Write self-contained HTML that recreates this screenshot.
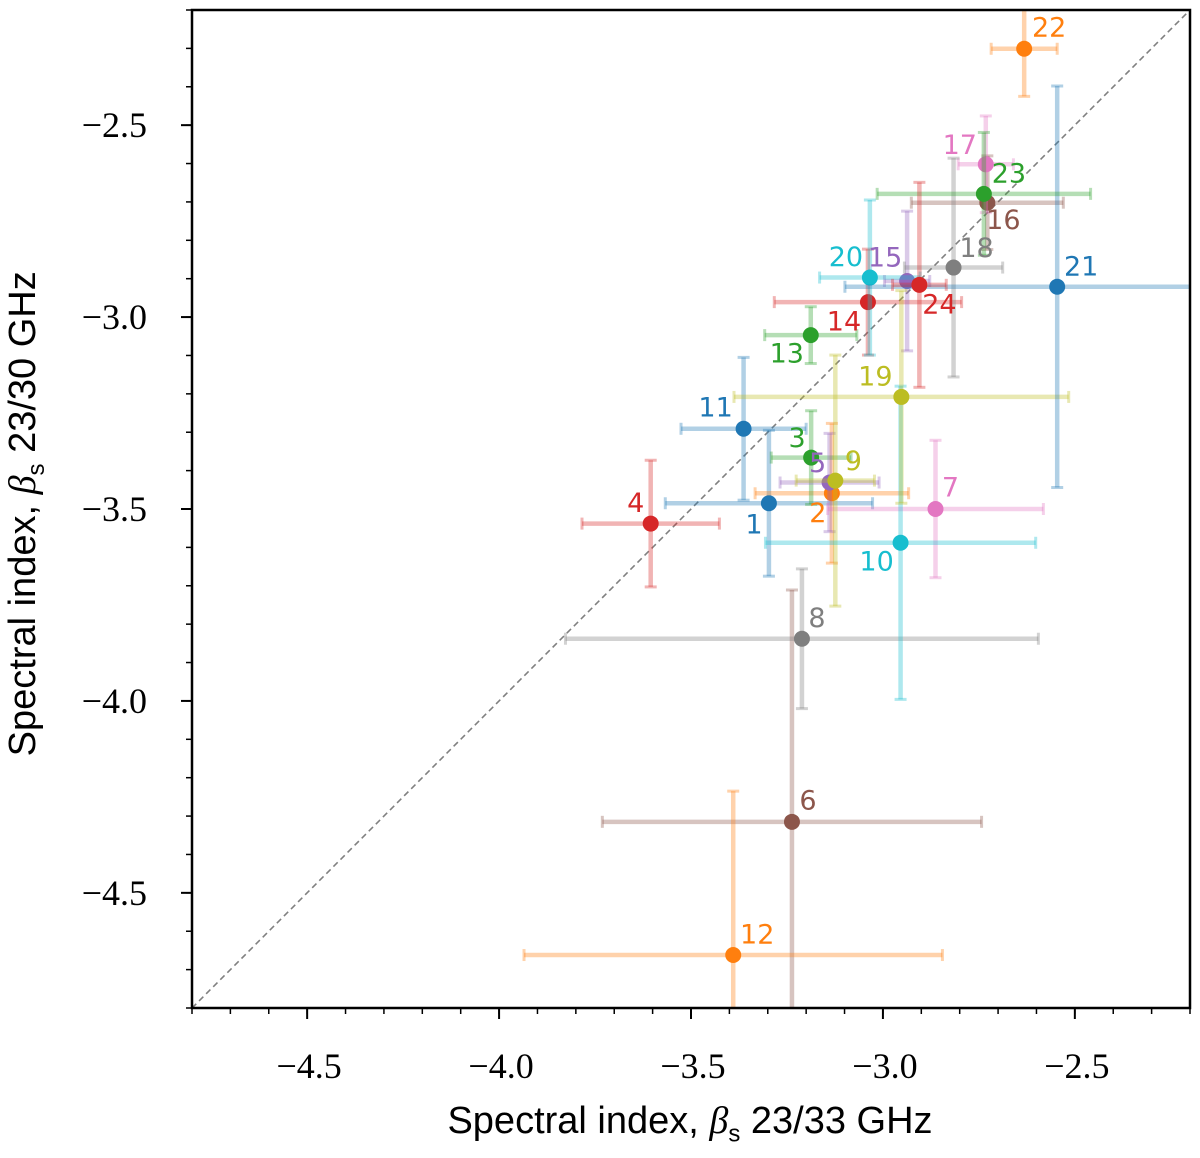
<!DOCTYPE html>
<html><head><meta charset="utf-8">
<style>
html,body{margin:0;padding:0;background:#fff;}
svg{display:block;}
.tick{font-family:"Liberation Serif",serif;font-size:36px;fill:#000;}
.lab{font-family:"DejaVu Sans","Liberation Sans",sans-serif;font-size:27px;}
</style></head>
<body>
<svg id="chart" width="1200" height="1152" viewBox="0 0 1200 1152">
<defs><clipPath id="plotclip"><rect x="192" y="10" width="998" height="998"/></clipPath></defs>
<g id="plot" clip-path="url(#plotclip)"></g>
<g id="axes"></g>
<g id="labels"></g>
</svg>
<script>
const ids = ["1","2","3","4","5","6","7","8","9","10","11","12","13","14","15","16","17","18","19","20","21","22","23","24"];
const xVals = [-3.297,-3.133,-3.187,-3.605,-3.139,-3.237,-2.863,-3.211,-3.124,-2.954,-3.363,-3.390,-3.188,-3.039,-2.937,-2.728,-2.732,-2.816,-2.952,-3.034,-2.546,-2.632,-2.737,-2.905];
const yVals = [-3.485,-3.459,-3.366,-3.538,-3.431,-4.315,-3.500,-3.838,-3.426,-3.588,-3.291,-4.662,-3.047,-2.961,-2.906,-2.702,-2.602,-2.871,-3.208,-2.897,-2.921,-2.301,-2.679,-2.916];
const xErr = [0.27,0.20,0.104,0.179,0.129,0.494,0.281,0.616,0.102,0.352,0.163,0.545,0.120,0.244,0.059,0.198,0.072,0.128,0.436,0.131,0.553,0.086,0.278,0.070];
const yErr = [0.19,0.182,0.122,0.165,0.128,0.604,0.179,0.182,0.327,0.408,0.186,0.427,0.074,0.138,0.182,0.122,0.126,0.285,0.277,0.202,0.523,0.124,0.160,0.267];
const xTicks = [-4.5,-4.0,-3.5,-3.0,-2.5];
const yTicks = [-2.5,-3.0,-3.5,-4.0,-4.5];
const xTickLabels = ["\u22124.5","\u22124.0","\u22123.5","\u22123.0","\u22122.5"];
const yTickLabels = ["\u22122.5","\u22123.0","\u22123.5","\u22124.0","\u22124.5"];

const palette = ["#1f77b4","#ff7f0e","#2ca02c","#d62728","#9467bd","#8c564b","#e377c2","#7f7f7f","#bcbd22","#17becf"];
const labelDX = [-15,-14,-14,-15,-12,16,15,15,18,-24,-28,24,-24,-24,-22,16,-26,23,-26,-24,24,25,25,20];
const labelDY = [22,20,-19,-20,-19,-21,-21,-20,-19,19,-21,-20,19,20,-23,18,-19,-19,-20,-20,-20,-21,-20,20];

const L=192,R=1190,T=10,B=1008,MIN=-4.8,MAX=-2.2;
const sx = v => L + (v-MIN)/(MAX-MIN)*(R-L);
const sy = v => B - (v-MIN)/(MAX-MIN)*(B-T);
const NS="http://www.w3.org/2000/svg";
function mk(tag, attrs, parent){const e=document.createElementNS(NS,tag);for(const k in attrs)e.setAttribute(k,attrs[k]);parent.appendChild(e);return e;}
const plot=document.getElementById('plot'), axes=document.getElementById('axes'), labels=document.getElementById('labels');

const diag=mk('line',{x1:sx(MIN),y1:sy(MIN),x2:sx(MAX),y2:sy(MAX),stroke:'#808080','stroke-width':1.6,'stroke-dasharray':'6,4'},plot);



for(let i=0;i<ids.length;i++){
  const c=palette[i%10];
  const g=mk('g',{},plot);
  
  
  const cx=sx(xVals[i]), cy=sy(yVals[i]);
  const x0=sx(xVals[i]-xErr[i]), x1=sx(xVals[i]+xErr[i]);
  const y0=sy(yVals[i]-yErr[i]), y1=sy(yVals[i]+yErr[i]);
  const eg=mk('g',{stroke:c,'stroke-opacity':0.35,'stroke-width':4.5},g);
  
  
  mk('line',{x1:x0,y1:cy,x2:x1,y2:cy},eg);
  mk('line',{x1:cx,y1:y0,x2:cx,y2:y1},eg);
  mk('line',{x1:x0,y1:cy-6,x2:x0,y2:cy+6,'stroke-width':3},eg);
  mk('line',{x1:x1,y1:cy-6,x2:x1,y2:cy+6,'stroke-width':3},eg);
  mk('line',{x1:cx-6,y1:y0,x2:cx+6,y2:y0,'stroke-width':3},eg);
  mk('line',{x1:cx-6,y1:y1,x2:cx+6,y2:y1,'stroke-width':3},eg);
  const m=mk('circle',{cx:cx,cy:cy,r:8,fill:c},g);
  
  
  const t=mk('text',{x:cx+labelDX[i],y:cy+labelDY[i],'text-anchor':'middle','dominant-baseline':'central',fill:c,class:'lab'},labels);
  t.textContent=ids[i];
  
  
}

const fr=mk('rect',{x:L,y:T,width:R-L,height:B-T,fill:'none',stroke:'#000','stroke-width':2.5},axes);


for(let k=-48;k<=-22;k++){
  const v=k/10;
  mk('line',{x1:sx(v),y1:B,x2:sx(v),y2:B+6,stroke:'#000','stroke-width':1.5},axes);
  mk('line',{x1:L,y1:sy(v),x2:L-6,y2:sy(v),stroke:'#000','stroke-width':1.5},axes);
}
for(let i=0;i<xTicks.length;i++){
  mk('line',{x1:sx(xTicks[i]),y1:B,x2:sx(xTicks[i]),y2:B+11,stroke:'#000','stroke-width':2},axes);
  const t=mk('text',{x:sx(xTicks[i])+2,y:1066,'text-anchor':'middle','dominant-baseline':'central',class:'tick'},axes);
  t.textContent=xTickLabels[i];
  
  
}
for(let i=0;i<yTicks.length;i++){
  mk('line',{x1:L,y1:sy(yTicks[i]),x2:L-11,y2:sy(yTicks[i]),stroke:'#000','stroke-width':2},axes);
  const t=mk('text',{x:147,y:sy(yTicks[i]),'text-anchor':'end','dominant-baseline':'central',class:'tick'},axes);
  t.textContent=yTickLabels[i];
  
  
}
</script>
<div style="position:absolute;left:0;top:0;width:1200px;height:1152px;pointer-events:none;">
<div style="position:absolute;left:340px;top:1098px;width:700px;text-align:center;font-family:'Liberation Sans',sans-serif;font-size:38px;line-height:46px;white-space:nowrap;">Spectral index, <i style="font-family:'Liberation Serif',serif">β</i><sub style="font-size:24px">s</sub> 23/33 GHz</div>
<div style="position:absolute;left:-320px;top:484px;width:700px;text-align:center;font-family:'Liberation Sans',sans-serif;font-size:38px;line-height:46px;white-space:nowrap;transform:rotate(-90deg);">Spectral index, <i style="font-family:'Liberation Serif',serif">β</i><sub style="font-size:24px">s</sub> 23/30 GHz</div>
</div>
</body></html>
